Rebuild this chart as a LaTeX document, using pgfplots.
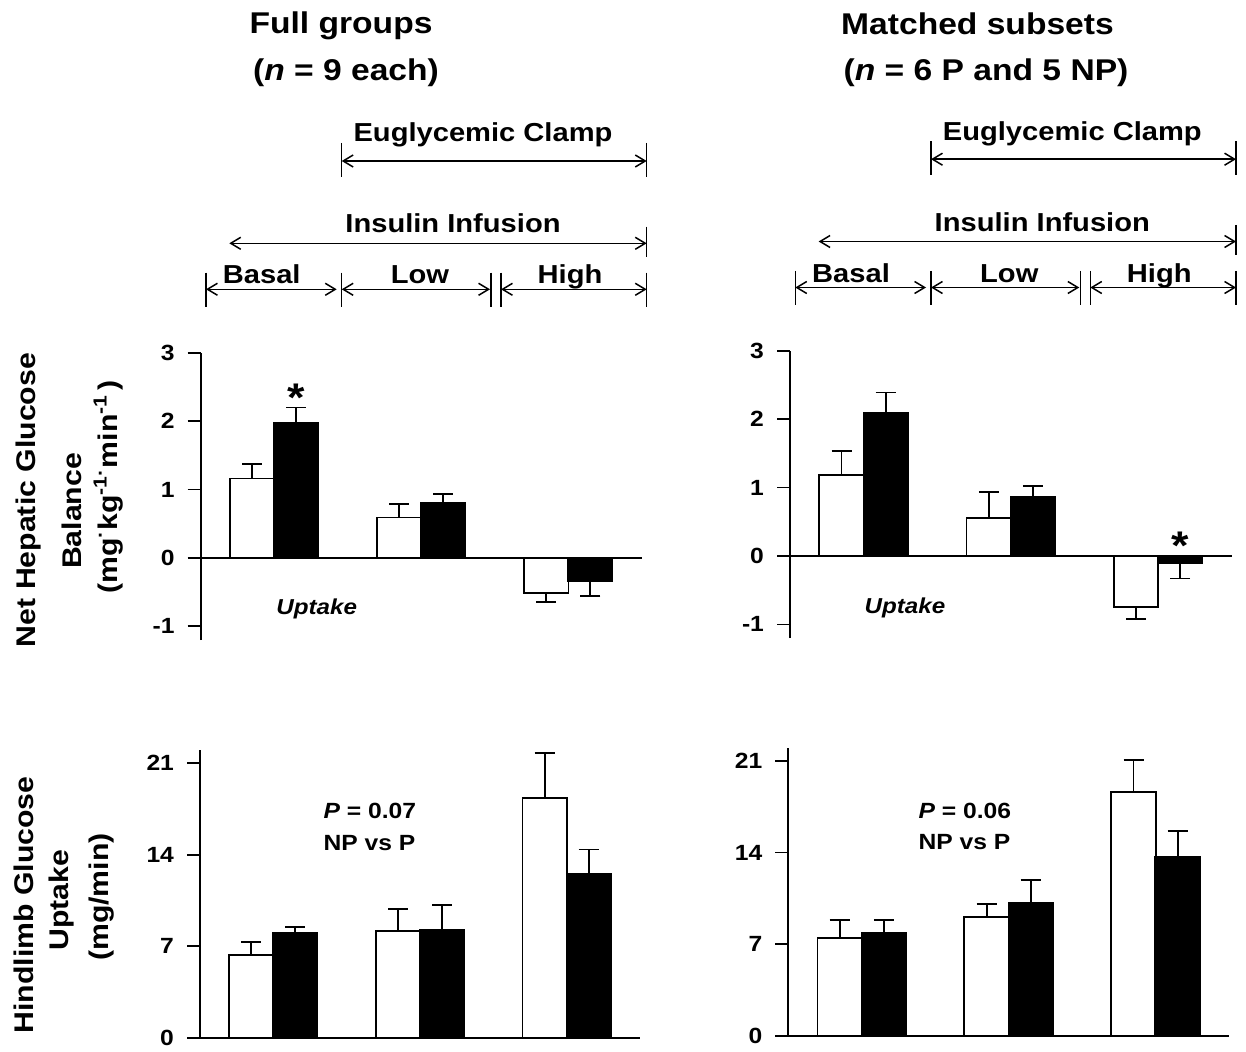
\documentclass[border=0pt]{standalone}
\usepackage{fontspec}
\setmainfont{Liberation Sans}[FakeStretch=1.12]
\usepackage{pgfplots}
\pgfplotsset{compat=1.18}
\usetikzlibrary{arrows.meta}

\newcommand{\fs}[1]{\fontsize{#1}{#1}\selectfont\bfseries}

\pgfplotsset{
  panel/.style={
    scale only axis, xmin=0.5, xmax=3.5, xtick=\empty,
    axis y line*=left, tick align=outside, major tick length=6.5pt,
    axis line style={line width=0.9pt,-},
    every tick/.style={line width=0.9pt,black},
    yticklabel style={font=\fs{11}, xshift=-3pt},
    /pgf/number format/assume math mode=true,
    clip=false,
  },
  wbar/.style={ybar, bar width=22.25pt, bar shift=0pt, fill=white, draw=black, line width=0.9pt,
    error bars/.cd, y dir=plus, y explicit, error mark=|,
    error mark options={mark size=5pt, line width=0.9pt, black},
    error bar style={line width=0.9pt, black}},
  bbar/.style={ybar, bar width=22.25pt, bar shift=0pt, fill=black, draw=black, line width=0.9pt,
    error bars/.cd, y dir=plus, y explicit, error mark=|,
    error mark options={mark size=5pt, line width=0.9pt, black},
    error bar style={line width=0.9pt, black}},
}

\newcommand{\header}{%
  \node[font=\fs{13}, anchor=base] at (483,142) {Euglycemic Clamp};
  \draw[{Straight Barb[length=5pt,width=6pt]}-{Straight Barb[length=5pt,width=6pt]}] (341.7,161) -- (646.7,161);
  \draw (341.7,143) -- (341.7,177);
  \draw (646.7,143) -- (646.7,177);
  \node[font=\fs{13}, anchor=base] at (453,233) {Insulin Infusion};
  \draw[{Straight Barb[length=5pt,width=6pt]}-{Straight Barb[length=5pt,width=6pt]}] (229.3,243.3) -- (646.7,243.3);
  \draw (646.7,226.7) -- (646.7,256.7);
  \node[font=\fs{13}, anchor=base] at (261.7,284) {Basal};
  \node[font=\fs{13}, anchor=base] at (420,284) {Low};
  \node[font=\fs{13}, anchor=base] at (570,284) {High};
  \draw[{Straight Barb[length=5pt,width=6pt]}-{Straight Barb[length=5pt,width=6pt]}] (206,289.3) -- (336.7,289.3);
  \draw[{Straight Barb[length=5pt,width=6pt]}-{Straight Barb[length=5pt,width=6pt]}] (341.7,289.3) -- (490,289.3);
  \draw[{Straight Barb[length=5pt,width=6pt]}-{Straight Barb[length=5pt,width=6pt]}] (501,289.3) -- (646.7,289.3);
  \foreach \xx in {206,341.7,491,501,646.7} {\draw (\xx,272.7) -- (\xx,306.7);}
}

\begin{document}
\begin{tikzpicture}
\useasboundingbox (0,0) rectangle (623pt,525.5pt);

% ---------- annotations in pixel coordinates ----------
\begin{scope}[x=0.5pt, y=-0.5pt, shift={(0,-1051)}, line width=0.75pt]
  \node[font=\fs{15}, anchor=base] at (341,34) {Full groups};
  \node[font=\fs{15}, anchor=base] at (346,81) {(\textit{n} = 9 each)};
  \node[font=\fs{15}, anchor=base] at (977.5,35) {Matched subsets};
  \node[font=\fs{15}, anchor=base] at (986,81) {(\textit{n} = 6 P and 5 NP)};
  \header
  \begin{scope}[shift={(589.3,-1.8)}]
    \header
  \end{scope}
  % y labels
  \node[font=\fs{13.5}, rotate=90, anchor=base] at (35,500) {Net Hepatic Glucose};
  \node[font=\fs{13.5}, rotate=90, anchor=base] at (81,511) {Balance};
  \node[font=\fs{13.5}, rotate=90, anchor=base] at (117,487) {(mg\textsuperscript{·}kg\textsuperscript{-1·}min\textsuperscript{-1}\,)};
  \node[font=\fs{13.5}, rotate=90, anchor=base] at (33,905) {Hindlimb Glucose};
  \node[font=\fs{13.5}, rotate=90, anchor=base] at (68,900) {Uptake};
  \node[font=\fs{13.5}, rotate=90, anchor=base] at (108,897) {(mg/min)};
\end{scope}

% ---------- top left ----------
\begin{axis}[panel, at={(100.35pt,205.5pt)}, anchor=south west,
  width=220.5pt, height=143.65pt, ymin=-1.2, ymax=3, ytick={-1,0,1,2,3},
  axis x line*=middle]
\addplot[wbar] coordinates {(0.85,1.16) +- (0,0.21) (1.85,0.59) +- (0,0.20) (2.85,-0.51) +- (0,-0.13)};
\addplot[bbar] coordinates {(1.15,1.98) +- (0,0.22) (2.15,0.81) +- (0,0.12) (3.15,-0.34) +- (0,-0.22)};
\node[font=\fs{20}, yshift=-4.4pt] at (axis cs:1.15,2.47) {*};
\node[font=\fs{10.8}\itshape] at (axis cs:1.289,-0.75) {Uptake};
\end{axis}

% ---------- top right ----------
\begin{axis}[panel, at={(395pt,206.45pt)}, anchor=south west,
  width=220.85pt, height=143.7pt, ymin=-1.2, ymax=3, ytick={-1,0,1,2,3},
  axis x line*=middle]
\addplot[wbar] coordinates {(0.85,1.18) +- (0,0.35) (1.85,0.56) +- (0,0.37) (2.85,-0.74) +- (0,-0.18)};
\addplot[bbar] coordinates {(1.15,2.09) +- (0,0.30) (2.15,0.87) +- (0,0.15) (3.15,-0.10) +- (0,-0.23)};
\node[font=\fs{20}, yshift=-4.4pt] at (axis cs:3.15,0.28) {*};
\node[font=\fs{10.8}\itshape] at (axis cs:1.281,-0.76) {Uptake};
\end{axis}

% ---------- bottom left ----------
\begin{axis}[panel, at={(100pt,6.65pt)}, anchor=south west,
  width=220pt, height=143.75pt, ymin=0, ymax=22, ytick={0,7,14,21},
  axis x line*=bottom]
\addplot[wbar] coordinates {(0.85,6.33) +- (0,1.02) (1.85,8.19) +- (0,1.66) (2.85,18.32) +- (0,3.48)};
\addplot[bbar] coordinates {(1.15,8.03) +- (0,0.46) (2.15,8.24) +- (0,1.91) (3.15,12.52) +- (0,1.88)};
\node[font=\fs{11}, anchor=base west] at (axis cs:1.295,16.8) {\textit{P} = 0.07};
\node[font=\fs{11}, anchor=base west] at (axis cs:1.295,14.36) {NP vs P};
\end{axis}

% ---------- bottom right ----------
\begin{axis}[panel, at={(394.15pt,7.5pt)}, anchor=south west,
  width=220.35pt, height=144.2pt, ymin=0, ymax=22, ytick={0,7,14,21},
  axis x line*=bottom]
\addplot[wbar] coordinates {(0.85,7.50) +- (0,1.35) (1.85,9.05) +- (0,1.02) (2.85,18.59) +- (0,2.46)};
\addplot[bbar] coordinates {(1.15,7.83) +- (0,1.02) (2.15,10.17) +- (0,1.73) (3.15,13.63) +- (0,2.03)};
\node[font=\fs{11}, anchor=base west] at (axis cs:1.339,16.6) {\textit{P} = 0.06};
\node[font=\fs{11}, anchor=base west] at (axis cs:1.339,14.2) {NP vs P};
\end{axis}
\end{tikzpicture}
\end{document}
